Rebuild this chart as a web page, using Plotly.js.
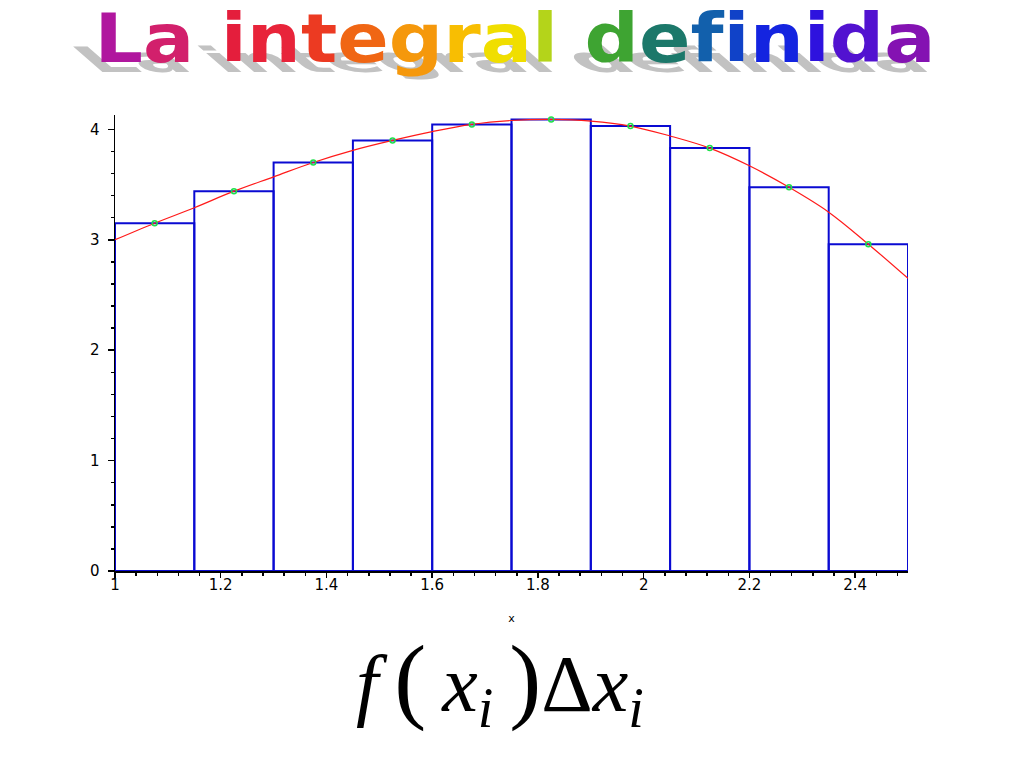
<!DOCTYPE html>
<html>
<head>
<meta charset="utf-8">
<script src="https://cdn.plot.ly/plotly-3.0.1.min.js"></script>
<style>
html,body{margin:0;padding:0;background:#fff;}
#chart{width:1024px;height:768px;}
</style>
</head>
<body>
<div id="chart"></div>
<script>
// Midpoints of the 10 subintervals (width 0.15) and rectangle heights f(x_i)
const midX = [1.075, 1.225, 1.375, 1.525, 1.675, 1.825, 1.975, 2.125, 2.275, 2.425];
const midY = [3.15, 3.44, 3.70, 3.90, 4.045, 4.09, 4.03, 3.83, 3.475, 2.96];
const barWidth = 0.15;

// Curve f(x)
const curveX = [1.000, 1.075, 1.150, 1.225, 1.300, 1.375, 1.450, 1.525, 1.600, 1.675, 1.750,
                1.825, 1.900, 1.975, 2.050, 2.125, 2.200, 2.275, 2.350, 2.425, 2.500];
const curveY = [3.00, 3.15, 3.29, 3.44, 3.57, 3.70, 3.81, 3.90, 3.98, 4.045, 4.08,
                4.09, 4.075, 4.03, 3.94, 3.83, 3.67, 3.475, 3.25, 2.96, 2.65];

const xTickVals = [1, 1.2, 1.4, 1.6, 1.8, 2, 2.2, 2.4];
const xTickText = ["1", "1.2", "1.4", "1.6", "1.8", "2", "2.2", "2.4"];
const yTickVals = [0, 1, 2, 3, 4];
const yTickText = ["0", "1", "2", "3", "4"];

const titleLetters = ["L","a"," ","i","n","t","e","g","r","a","l"," ","d","e","f","i","n","i","d","a"];
const titleColors = ["#B0169E","#D2206C","#fff","#E41E3C","#E8243A","#EC3A22","#F06614","#F5980C","#F8BE02","#F0DE00","#B4D41A","#fff",
                     "#3EA432","#1C786A","#1260AC","#1042C8","#1424E0","#2E12DE","#5212D0","#8412B2"];

const titleHtml = titleLetters.map((c, i) => c === " " ? " " : '<span style="color:' + titleColors[i] + '">' + c + '</span>').join("");
const shadowText = titleLetters.join("");

const traces = [
  {
    type: 'bar',
    x: midX,
    y: midY,
    width: barWidth,
    marker: {color: 'rgba(255,255,255,0)', line: {color: '#0A0AD2', width: 2}},
    hoverinfo: 'skip'
  },
  {
    type: 'scatter',
    mode: 'lines',
    x: curveX,
    y: curveY,
    line: {color: '#FF1A1A', width: 1.2, shape: 'spline'},
    hoverinfo: 'skip'
  },
  {
    type: 'scatter',
    mode: 'markers',
    x: midX,
    y: midY,
    marker: {symbol: 'circle-open', color: '#1EE04A', size: 5, line: {width: 1.5}},
    hoverinfo: 'skip'
  }
];

const layout = {
  width: 1024,
  height: 768,
  paper_bgcolor: '#fff',
  plot_bgcolor: '#fff',
  showlegend: false,
  margin: {l: 115, r: 116, t: 115, b: 197},
  xaxis: {
    range: [1, 2.5],
    tickvals: xTickVals,
    ticktext: xTickText,
    ticks: 'outside',
    ticklen: 5,
    tickwidth: 1.5,
    tickcolor: '#000',
    ticklabelstandoff: -6,
    showline: true,
    linecolor: '#000',
    linewidth: 1.5,
    showgrid: false,
    zeroline: false,
    tickfont: {family: 'DejaVu Sans', size: 15, color: '#000'},
    minor: {dtick: 0.04, tick0: 1, ticks: 'outside', ticklen: 3, tickcolor: '#000', tickwidth: 1.5, showgrid: false},
    title: {text: 'x', font: {family: 'DejaVu Sans', size: 11, color: '#000'}, standoff: 22}
  },
  yaxis: {
    range: [0, 4.13],
    tickvals: yTickVals,
    ticktext: yTickText,
    ticks: 'outside',
    ticklen: 6,
    tickwidth: 1.5,
    tickcolor: '#000',
    ticklabelstandoff: 5,
    showline: true,
    linecolor: '#000',
    linewidth: 1.5,
    showgrid: false,
    zeroline: false,
    tickfont: {family: 'DejaVu Sans', size: 15, color: '#000'},
    minor: {dtick: 0.2, tick0: 0, ticks: 'outside', ticklen: 3, tickcolor: '#000', tickwidth: 1.5, showgrid: false}
  },
  annotations: [
    {
      text: shadowText,
      xref: 'paper', yref: 'paper',
      x: (515 - 115) / 793, y: 1 + (115 - 45) / 456,
      xanchor: 'center', yanchor: 'middle',
      showarrow: false,
      font: {family: 'DejaVu Sans', size: 76, weight: 700, color: '#C2C2C2'}
    },
    {
      text: titleHtml,
      xref: 'paper', yref: 'paper',
      x: (515 - 115) / 793, y: 1 + (115 - 45) / 456,
      xanchor: 'center', yanchor: 'middle',
      showarrow: false,
      font: {family: 'DejaVu Sans', size: 76, weight: 700, color: '#000'}
    },
    {
      text: '<i>f</i>&#8201;<span style="font-size:96px">(</span>&#8201;<i>x</i><sub><i>i</i></sub>&#8201;<span style="font-size:96px">)</span>Δ<i>x</i><sub><i>i</i></sub>',
      xref: 'paper', yref: 'paper',
      x: (500 - 115) / 793, y: -(682 - 571) / 456,
      xanchor: 'center', yanchor: 'middle',
      height: 108,
      valign: 'middle',
      showarrow: false,
      font: {family: 'Liberation Serif', size: 80, color: '#000'}
    }
  ]
};

Plotly.newPlot('chart', traces, layout, {staticPlot: true, displayModeBar: false}).then(function (gd) {
  const anns = gd.querySelectorAll('.annotation');
  function baselineOf(g) {
    const bb = g.querySelector('text').getBBox();
    return bb.y + bb.height - 0.236 * 76;
  }
  // Grey copy of the title: flattened and slanted so it reads as a cast shadow.
  if (anns[0]) {
    const b = baselineOf(anns[0]);
    anns[0].setAttribute('transform',
      'translate(0,72) skewX(49) scale(1,0.46) translate(0,' + (-b) + ')');
  }
  // Coloured title: the reference lettering is wide and slightly low, so compress it vertically.
  if (anns[1]) {
    const b = baselineOf(anns[1]);
    anns[1].setAttribute('transform',
      'translate(0,63) scale(1,0.88) translate(0,' + (-b) + ')');
  }
});
</script>
</body>
</html>
